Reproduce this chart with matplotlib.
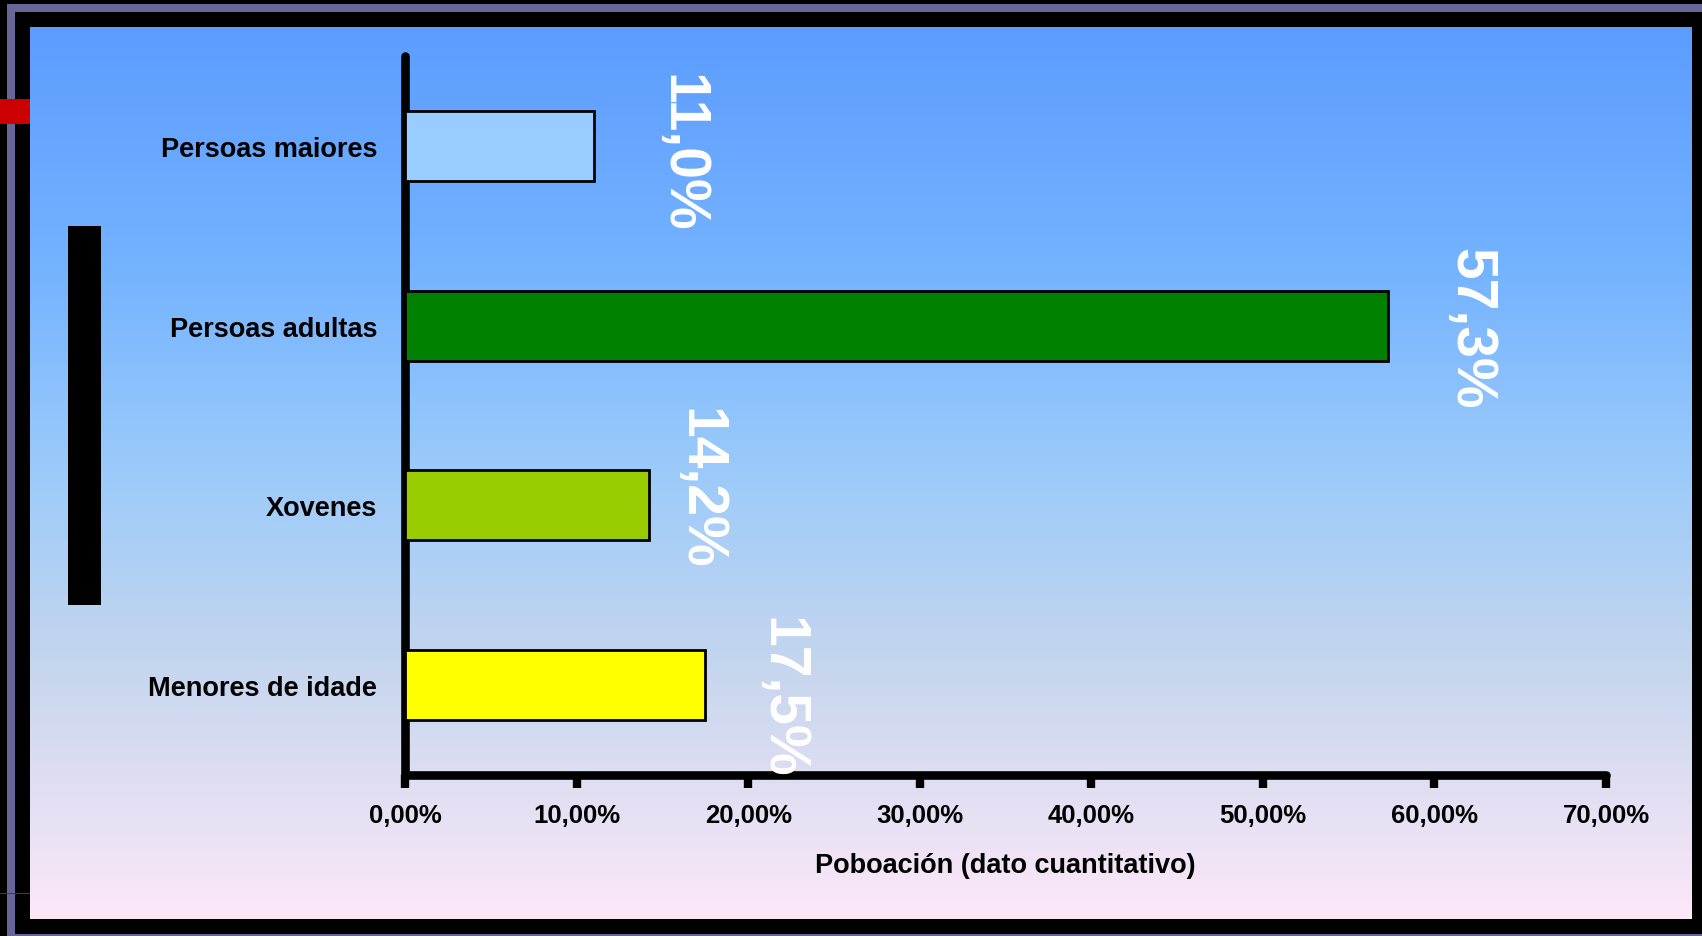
import numpy as np
import matplotlib
matplotlib.use("Agg")
import matplotlib.pyplot as plt
from matplotlib.colors import LinearSegmentedColormap
from matplotlib.patches import Rectangle
import matplotlib.ticker as ticker

plt.rcParams['font.family'] = ['Liberation Sans', 'DejaVu Sans']

# datos
categorias = ['Menores de idade', 'Xovenes', 'Persoas adultas', 'Persoas maiores']
valores = [17.5, 14.2, 57.3, 11.0]
etiquetas = ['17,5%', '14,2%', '57,3%', '11,0%']
cores = ['#FFFF00', '#99CC00', '#008000', '#99CCFF']
xticks_val = [0, 10, 20, 30, 40, 50, 60, 70]
xticks_txt = ['0,00%', '10,00%', '20,00%', '30,00%', '40,00%', '50,00%', '60,00%', '70,00%']
# desprazamento das etiquetas (px)
etiq_dx = [76, 51, 82, 88]
etiq_dy = [-12, 18, -2, -6]

W, H = 1702, 937
fig = plt.figure(figsize=(W / 100, H / 100), dpi=100)
fig.patch.set_facecolor('black')


def fx(px):
    return px / W


def fy(py):
    return 1 - py / H


# marco
fig.patches.append(Rectangle((fx(7), fy(937)), fx(1702 - 7), fy(5) - fy(937),
                             transform=fig.transFigure, facecolor='#666699', edgecolor='none', zorder=0))
fig.patches.append(Rectangle((fx(15), fy(935)), fx(1702 - 15), fy(13) - fy(935),
                             transform=fig.transFigure, facecolor='black', edgecolor='none', zorder=0.1))

# fondo degradado
bg = fig.add_axes([fx(30), fy(920), fx(1692 - 30), fy(28) - fy(920)], zorder=0.5)
cmap = LinearSegmentedColormap.from_list('fondo', [(0.0, '#5C9CFF'), (0.27, '#74B3FF'),
                                                   (0.5, '#9CCBFA'), (0.72, '#C6D6EE'),
                                                   (1.0, '#FDE8F8')])
grad = np.linspace(0, 1, 256).reshape(-1, 1)
bg.imshow(grad, aspect='auto', cmap=cmap, extent=[0, 1, 1, 0])
bg.axis('off')

# marcas vermellas e barra negra
fig.patches.append(Rectangle((fx(0), fy(125)), fx(30), fy(100) - fy(125),
                             transform=fig.transFigure, facecolor='#CC0000', edgecolor='none', zorder=1))
fig.patches.append(Rectangle((fx(0), fy(895)), fx(30), fy(894) - fy(895),
                             transform=fig.transFigure, facecolor='#CC0000', edgecolor='none', zorder=1))
fig.patches.append(Rectangle((fx(68), fy(606)), fx(101 - 68), fy(227) - fy(606),
                             transform=fig.transFigure, facecolor='black', edgecolor='none', zorder=1))

ax = fig.add_axes([fx(405), fy(776), fx(1606 - 405), fy(57) - fy(776)], zorder=2)
ax.patch.set_alpha(0)

y = np.arange(len(categorias))
ax.barh(y, valores, height=0.39, color=cores, edgecolor='black', linewidth=2, zorder=3)

for i, (v, t) in enumerate(zip(valores, etiquetas)):
    ax.annotate(t, xy=(v, i), xytext=(etiq_dx[i], etiq_dy[i]), textcoords='offset pixels',
                rotation=-90, ha='center', va='center', color='white',
                fontsize=41, fontweight='bold', zorder=4)

ax.set_xlim(0, 70)
ax.set_ylim(-0.5, 3.5)
ax.xaxis.set_major_locator(ticker.FixedLocator(xticks_val))
ax.xaxis.set_major_formatter(ticker.FixedFormatter(xticks_txt))
ax.set_yticks(y)
ax.set_yticklabels(categorias)

for s in ['top', 'right']:
    ax.spines[s].set_visible(False)
for s in ['left', 'bottom']:
    ax.spines[s].set_linewidth(6.2)
    ax.spines[s].set_capstyle('round')
    ax.spines[s].set_color('black')

ax.tick_params(axis='x', length=9, width=6, color='black', pad=11,
               labelsize=18.5)
ax.tick_params(axis='y', length=0, pad=20, labelsize=19.5)
for lab in ax.get_xticklabels() + ax.get_yticklabels():
    lab.set_fontweight('bold')

ax.set_xlabel('Poboación (dato cuantitativo)', fontsize=19.5, fontweight='bold', labelpad=18)

fig.savefig('out.png', dpi=100, facecolor=fig.get_facecolor())
